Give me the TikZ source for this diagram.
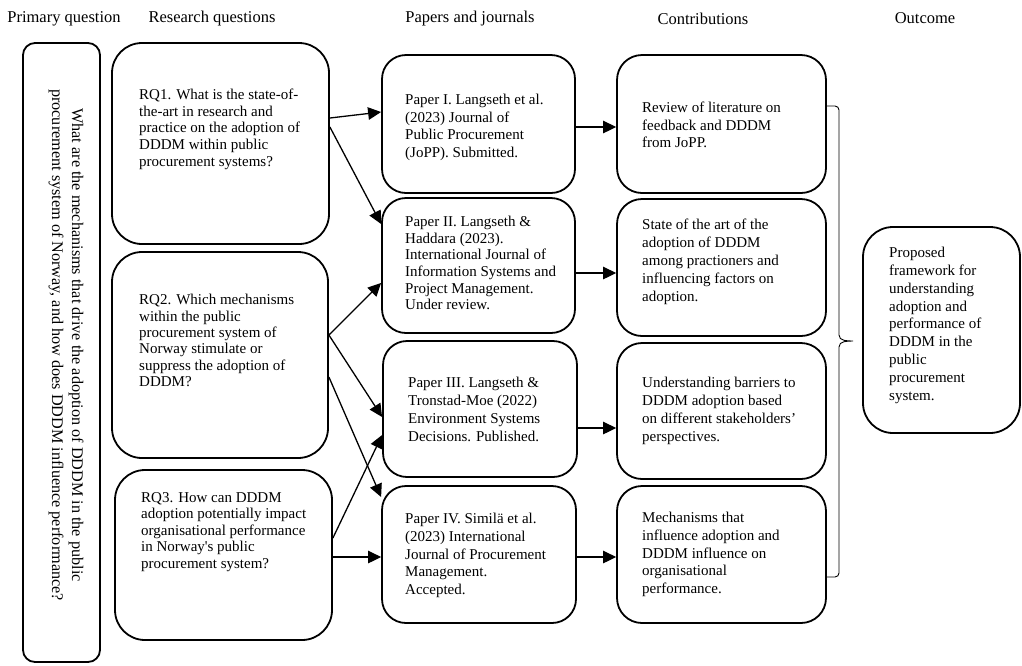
\documentclass[tikz,border=0pt]{standalone}
\usepackage{fontspec}
\setmainfont{Liberation Serif}
\usetikzlibrary{arrows.meta}
\begin{document}
\begin{tikzpicture}[x=1pt,y=-1pt,
  box/.style={draw=black, line width=1.8pt, inner sep=0pt, anchor=center},
  txt/.style={anchor=north west, inner sep=0pt, align=left,
    font=\fontsize{15}{#1}\selectfont, execute at begin node={\rule{0pt}{11pt}}},
  txt/.default=17.7,
  head/.style={anchor=base, inner sep=0pt, font=\fontsize{16.5}{18}\selectfont},
  arr/.style={line width=1.3pt, -{Triangle[length=13pt,width=12.5pt]}},
  brace/.style={line width=0.9pt}
]
% canvas
\path[fill=white, use as bounding box] (0,0) rectangle (1022,665);

% column headings
\node[head] (h1) at (64,22) {Primary question};
\node[head] (h2) at (212,22) {Research questions};
\node[head] (h3) at (470,22) {Papers and journals};
\node[head] (h4) at (703,24) {Contributions};
\node[head] (h5) at (925,23) {Outcome};

% primary question
\node[box, rounded corners=12pt, minimum width=77pt, minimum height=619pt] (prim) at (61.5,352.5) {};
\node[rotate=-90, align=center, inner sep=0pt, font=\fontsize{16.2}{20}\selectfont] (primt) at (66,345)
  {What are the mechanisms that drive the adoption of DDDM in the public\\
   procurement system of Norway, and how does DDDM influence performance?};

% research questions
\node[box, rounded corners=30pt, minimum width=217pt, minimum height=201pt] (rq1) at (220.5,143.5) {};
\node[box, rounded corners=30pt, minimum width=216pt, minimum height=206pt] (rq2) at (220,355) {};
\node[box, rounded corners=30pt, minimum width=217pt, minimum height=170pt] (rq3) at (223.5,555) {};
\node[txt=16.6] (rq1t) at (139,89) {RQ1. What is the state-of-\\the-art in research and\\practice on the adoption of\\DDDM within public\\procurement systems?};
\node[txt=16.4] (rq2t) at (139,294) {RQ2. Which mechanisms\\within the public\\procurement system of\\Norway stimulate or\\suppress the adoption of\\DDDM?};
\node[txt=16.5] (rq3t) at (141,492) {RQ3. How can DDDM\\adoption potentially impact\\organisational performance\\in Norway\textquotesingle s public\\procurement system?};

% papers
\node[box, rounded corners=24pt, minimum width=193pt, minimum height=138pt] (p1) at (478.5,124) {};
\node[box, rounded corners=24pt, minimum width=193pt, minimum height=135pt] (p2) at (478.5,265.5) {};
\node[box, rounded corners=24pt, minimum width=194pt, minimum height=136pt] (p3) at (480,409) {};
\node[box, rounded corners=24pt, minimum width=194pt, minimum height=137pt] (p4) at (479,554.5) {};
\node[txt=17.6] (p1t) at (405,94) {Paper I. Langseth et al.\\(2023) Journal of\\Public Procurement\\(JoPP). Submitted.};
\node[txt=16.6] (p2t) at (405,216) {Paper II. Langseth \&\\Haddara (2023).\\International Journal of\\Information Systems and\\Project Management.\\Under review.};
\node[txt=17.9] (p3t) at (408,377) {Paper III. Langseth \&\\Tronstad-Moe (2022)\\Environment Systems\\Decisions. Published.};
\node[txt=17.7] (p4t) at (405,513) {Paper IV. Similä et al.\\(2023) International\\Journal of Procurement\\Management.\\Accepted.};

% contributions
\node[box, rounded corners=25pt, minimum width=209pt, minimum height=138pt] (c1) at (721.5,124) {};
\node[box, rounded corners=25pt, minimum width=209pt, minimum height=137pt] (c2) at (721.5,267.5) {};
\node[box, rounded corners=25pt, minimum width=209pt, minimum height=136pt] (c3) at (721.5,411) {};
\node[box, rounded corners=25pt, minimum width=209pt, minimum height=137pt] (c4) at (721.5,554.5) {};
\node[txt=17.5] (c1t) at (642,102) {Review of literature on\\feedback and DDDM\\from JoPP.};
\node[txt=18] (c2t) at (642,219) {State of the art of the\\adoption of DDDM\\among practioners and\\influencing factors on\\adoption.};
\node[txt=17.9] (c3t) at (642,377) {Understanding barriers to\\DDDM adoption based\\on different stakeholders’\\perspectives.};
\node[txt=17.7] (c4t) at (642,512) {Mechanisms that\\influence adoption and\\DDDM influence on\\organisational\\performance.};

% outcome
\node[box, rounded corners=30pt, minimum width=157pt, minimum height=206pt] (out) at (941.5,330) {};
\node[txt=17.8] (outt) at (889,247) {Proposed\\framework for\\understanding\\adoption and\\performance of\\DDDM in the\\public\\procurement\\system.};

% research questions -> papers
\draw[arr] ([yshift=25.5pt]rq1.east) -- ([yshift=12pt]p1.west);
\draw[arr] ([yshift=16.5pt]rq1.east) -- ([yshift=41.5pt]p2.west);
\draw[arr] ([yshift=20pt]rq2.east) -- ([yshift=-17.5pt]p2.west);
\draw[arr] ([yshift=20pt]rq2.east) -- ([yshift=-8pt]p3.west);
\draw[arr] ([yshift=-22pt]rq2.east) -- ([yshift=57.5pt]p4.west);
\draw[arr] ([yshift=17pt]rq3.east) -- ([yshift=-26pt]p3.west);
\coordinate (s7) at ([yshift=-2pt]rq3.east);
\draw[arr] (s7) -- (s7 -| p4.west);

% papers -> contributions
\coordinate (s8) at ([yshift=-3pt]p1.east);
\coordinate (s9) at ([yshift=-7.5pt]p2.east);
\coordinate (s10) at ([yshift=-19pt]p3.east);
\coordinate (s11) at ([yshift=-2.5pt]p4.east);
\draw[arr] (s8) -- (s8 -| c1.west);
\draw[arr] (s9) -- (s9 -| c2.west);
\draw[arr] (s10) -- (s10 -| c3.west);
\draw[arr] (s11) -- (s11 -| c4.west);

% brace gathering the contributions
\coordinate (b1) at ([yshift=18pt]c1.east);
\coordinate (b2) at ([yshift=-22.5pt]c4.east);
\draw[brace] (b1) -- (835,106) to[out=0,in=90] (839,110) -- (839,335)
  to[out=-90,in=180] (853,341) to[out=180,in=90] (839,347) -- (839,573)
  to[out=-90,in=0] (835,577) -- (b2);
\end{tikzpicture}
\end{document}
